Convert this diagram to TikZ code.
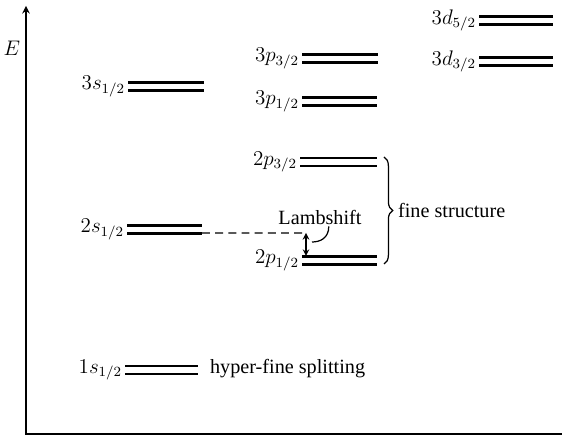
\documentclass[tikz,border=0pt]{standalone}
\usepackage{amsmath}
\usepackage{fontspec}
\setmainfont{Liberation Serif}
\usetikzlibrary{arrows.meta,decorations.pathreplacing}

\begin{document}
\begin{tikzpicture}[x=0.02cm,y=-0.02cm,>=stealth,
  font=\fontsize{11.5}{14}\selectfont,
  level/.style={line width=1.15pt,double distance=3.4pt},
  lbl/.style={left,inner sep=1.5pt}]
\useasboundingbox (0,0) rectangle (562,438);
\draw[line width=0.9pt,->](562,434)--(26,434)--(26,6);
\node (E) at (12,48) {$E$};
\draw[level](128,86.5)coordinate(s3)--(204,86.5)coordinate(s3e);
\draw[level](127,229.5)coordinate(s2)--(202,229.5)coordinate(s2e);
\draw[level](125,370)coordinate(s1)--(198,370)coordinate(s1e);
\draw[level](302,58.5)coordinate(p3a)--(378,58.5)coordinate(p3ae);
\draw[level](302,101.5)coordinate(p3b)--(377,101.5)coordinate(p3be);
\draw[level](300,162)coordinate(p2a)--(377,162)coordinate(p2ae);
\draw[level](302,260.5)coordinate(p2b)--(377,260.5)coordinate(p2be);
\draw[level](479,20.5)coordinate(d3a)--(553,20.5)coordinate(d3ae);
\draw[level](479,61.5)coordinate(d3b)--(553,61.5)coordinate(d3be);
\node[lbl] (s3l) at (s3) {$3s_{1/2}$};
\node[lbl] (s2l) at (s2) {$2s_{1/2}$};
\node[lbl] (s1l) at (s1) {$1s_{1/2}$};
\node[lbl] (p3al) at (p3a) {$3p_{3/2}$};
\node[lbl] (p3bl) at (p3b) {$3p_{1/2}$};
\node[lbl] (p2al) at (p2a) {$2p_{3/2}$};
\node[lbl] (p2bl) at (p2b) {$2p_{1/2}$};
\node[lbl] (d3al) at (d3a) {$3d_{5/2}$};
\node[lbl] (d3bl) at (d3b) {$3d_{3/2}$};
\node[right,inner sep=1pt] (hfs) at (208,369) {hyper-fine splitting};
\coordinate (ls) at (306,233);
\coordinate (lb) at (306,256);
\coordinate (lc) at (312,242);
\draw[line width=0.7pt,dash pattern=on 4.5pt off 3pt](s2e)++(0,3.5)--(ls);
\draw[line width=0.7pt,<->](ls)--(lb);
\node[inner sep=1pt] (lamb) at (320,217) {Lambshift};
\draw[line width=0.7pt]([xshift=5pt]lamb.south)..controls +(0,12) and +(8,0)..(lc);
\draw[line width=0.7pt,decorate,decoration={brace,amplitude=5pt}](384,157)--(384,264)coordinate(br);
\node[right,inner sep=1pt] (fs) at (396,210) {fine structure};
\end{tikzpicture}
\end{document}
